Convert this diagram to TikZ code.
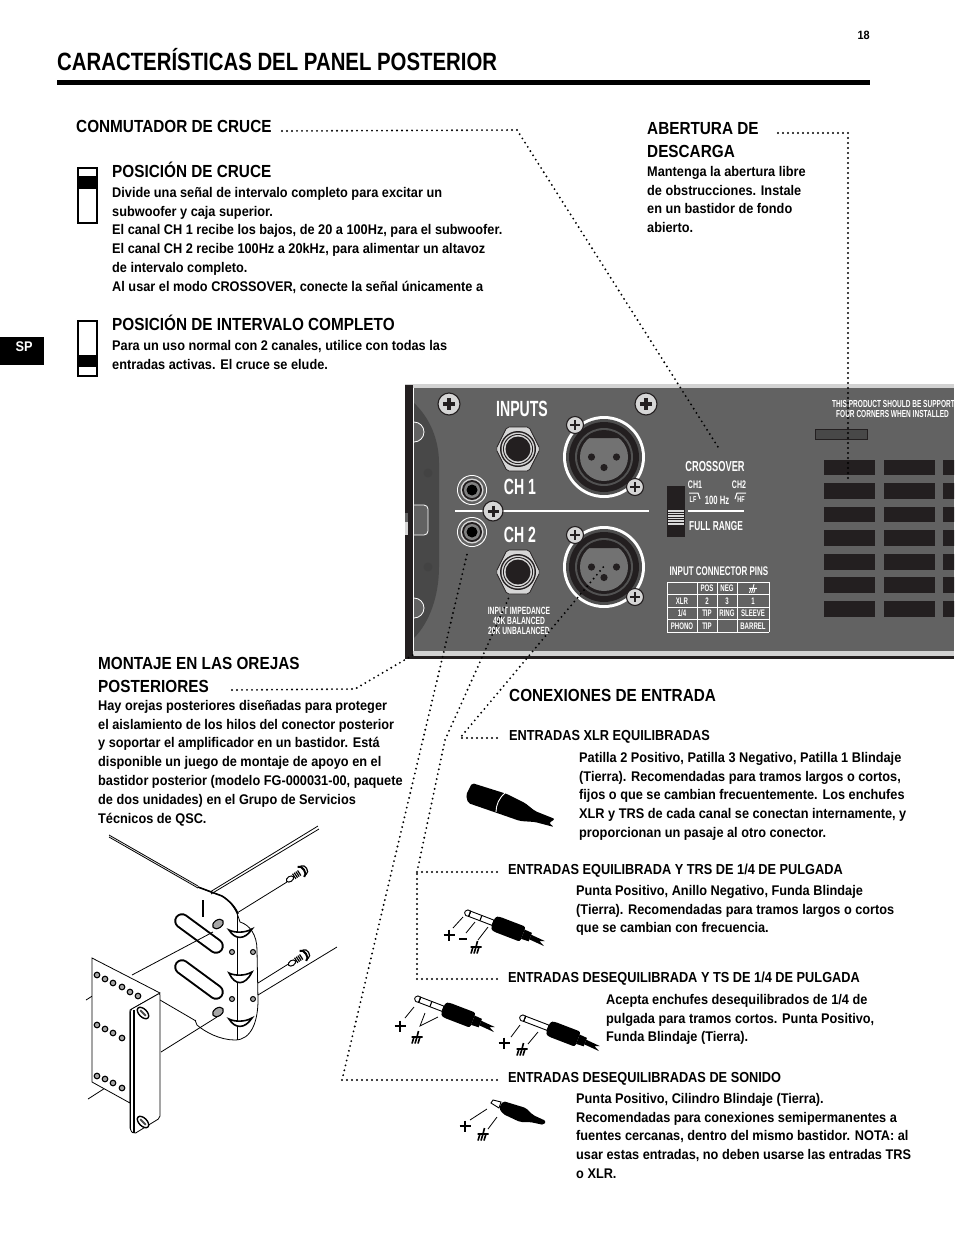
\documentclass[tikz,border=0pt]{standalone}
\usepackage{fontspec}
\setmainfont{Liberation Sans}
\newfontfamily\panelfont[FakeStretch=0.64]{Liberation Sans}
\newfontfamily\bodyfont[FakeStretch=0.91]{Liberation Sans}
\newfontfamily\headfont[FakeStretch=0.875]{Liberation Sans}
\newfontfamily\subfont[FakeStretch=0.88]{Liberation Sans}
\newfontfamily\titlefont[FakeStretch=0.815]{Liberation Sans}
\usepackage{xcolor}
\usepackage{tikz}
\usetikzlibrary{positioning, calc}
\definecolor{panelcolor}{RGB}{98, 98, 98}
\definecolor{earcolor}{RGB}{72, 72, 72}
\definecolor{ventcolor}{RGB}{35, 31, 32}
\definecolor{screwcolor}{RGB}{214, 214, 214}
\definecolor{edgecolor}{RGB}{210, 210, 210}

\tikzset{
    bodytext/.style={anchor=north west, inner sep=0pt, align=left, font=\bodyfont\bfseries\fontsize{14}{18.8}\selectfont, execute at begin node={\rule{0pt}{12pt}}},
    headtext/.style={bodytext, font=\headfont\bfseries\fontsize{17.5}{22.7}\selectfont, execute at begin node={\rule{0pt}{17pt}}},
    subhead/.style={bodytext, font=\subfont\bfseries\fontsize{14.5}{18.7}\selectfont},
    paneltext/.style={inner sep=0pt, text=white, align=center, font=\panelfont\bfseries\fontsize{#1}{10.2}\selectfont},
    dotline/.style={line width=2.1pt, line cap=round, dash pattern=on 0pt off 5pt},
    thinline/.style={line width=0.8pt},
    pics/screwhead/.style={code={
        \draw[fill=screwcolor, draw=ventcolor, line width=1.1pt] (0,0) circle (#1);
        \draw[line width=0.3*#1 pt, ventcolor] (-0.55*#1,0) -- (0.55*#1,0) (0,-0.55*#1) -- (0,0.55*#1);
    }},
    pics/xlrjack/.style={code={
        \fill[white] (0,0) circle (41);
        \fill[panelcolor!80!black] (0,0) circle (38);
        \fill[ventcolor] (0,0) circle (35);
        \fill[panelcolor!110] (0,0) circle (29);
        \fill[ventcolor] (0,0) circle (27);
        \fill[panelcolor!90!white] (0,0) circle (24);
        \fill[ventcolor] (-13,-24) -- (13,-24) -- (15,-19) -- (-15,-19) -- cycle;
        \fill[ventcolor] (-12.5,0) circle (3.6) (12.5,0) circle (3.6) (0,10.5) circle (3.6);
    }},
    pics/phonejack/.style={code={
        \draw[fill=screwcolor, draw=ventcolor, line width=0.7pt, rounded corners=2pt] (22,0) -- (11,-22) -- (-11,-22) -- (-22,0) -- (-11,22) -- (11,22) -- cycle;
        \fill[ventcolor] (0,0) circle (18);
        \fill[screwcolor] (0,0) circle (16.5);
        \fill[ventcolor] (0,0) circle (15);
        \fill[screwcolor] (0,0) circle (14);
        \fill[ventcolor] (0,0) circle (12.5);
    }},
    pics/rcajack/.style={code={
        \fill[white] (0,0) circle (15);
        \fill[panelcolor] (0,0) circle (14);
        \fill[screwcolor] (0,0) circle (11.5);
        \fill[ventcolor] (0,0) circle (10);
        \fill[panelcolor!80] (0,0) circle (8);
        \fill[black] (0,0) circle (5.5);
    }},
    pics/groundmark/.style={code={
        \draw[line width=1.6pt] (1.5,-7) -- (0,-1) (-5.5,-1) -- (5.5,-1) (-3,-1) -- (-5,5.5) (0,-1) -- (-2,5.5) (3,-1) -- (1,5.5);
    }},
    pics/rackscrew/.style={code={
        \draw[line width=1pt, fill=white] (0,0) ellipse (4 and 2.6);
        \foreach \threadx in {5,7,9,11} {
            \draw[line width=1.2pt] (\threadx,-3) -- (\threadx,3);
        }
        \draw[line width=2pt] (13,-6) .. controls (18,-6) and (18,6) .. (13,6);
        \draw[line width=1.2pt] (16,-5) .. controls (21,-5) and (21,5) .. (16,5);
    }},
    pics/quarterplug/.style={code={
        \draw[line width=0.9pt, fill=white] (5,-2.8) -- (30,-2.8) -- (30,2.8) -- (5,2.8) -- cycle;
        \draw[line width=0.9pt, fill=white] (5,-2.8) -- (2,-3) -- (0,-1) -- (0,1) -- (2,3) -- (5,2.8) -- cycle;
        \draw[line width=1.1pt] (5,-2.8) -- (5,2.8);
        #1
        \fill[black, rounded corners=2.5pt] (30,-6.5) -- (34,-8) -- (62,-8) -- (62,8) -- (34,8) -- (30,6.5) -- cycle;
        \fill[black] (62,-5) -- (70,-4.5) -- (70,4.5) -- (62,5) -- cycle;
        \fill[black] (70,-2.5) -- (85,-1.5) -- (80,0.5) -- (86,3.5) -- (70,2.5) -- cycle;
    }}
}

\begin{document}
\begin{tikzpicture}[x=1pt, y=-1pt]
\useasboundingbox (0,0) rectangle (954,1235);
\fill[white] (0,0) rectangle (954,1235);

% Page head
\node[anchor=east, inner sep=0pt, font=\bodyfont\bfseries\fontsize{12}{14}\selectfont] (pagenum) at (870,35) {18};
\node[anchor=base west, inner sep=0pt, font=\titlefont\bfseries\fontsize{25}{30}\selectfont] (pagetitle) at (57,70) {CARACTERÍSTICAS DEL PANEL POSTERIOR};
\fill[black] (57,80) rectangle (870,85);
\fill[black] (0,337) rectangle (44,365);
\node[inner sep=0pt, text=white, font=\bodyfont\bfseries\fontsize{14}{16}\selectfont] (sptab) at (24,347) {SP};

% Crossover switch
\node[headtext] (conmutador) at (76,115.5) {CONMUTADOR DE CRUCE};
\node[headtext] (poscruce) at (112,160.5) {POSICIÓN DE CRUCE};
\node[bodytext] (poscrucetxt) at (112,187) {Divide una señal de intervalo completo para excitar un\\subwoofer y caja superior.\\El canal CH 1 recibe los bajos, de 20 a 100Hz, para el subwoofer.\\El canal CH 2 recibe 100Hz a 20kHz, para alimentar un altavoz\\de intervalo completo.\\Al usar el modo CROSSOVER, conecte la señal únicamente a};
\node[headtext] (posrango) at (112,313.5) {POSICIÓN DE INTERVALO COMPLETO};
\node[bodytext] (posrangotxt) at (112,340) {Para un uso normal con 2 canales, utilice con todas las\\entradas activas. El cruce se elude.};
\draw[line width=1.6pt] (78,168) rectangle (97,223);
\fill[black] (78,176) rectangle (97,189);
\draw[line width=1.6pt] (78,321) rectangle (97,376);
\fill[black] (78,355) rectangle (97,367);

% Exhaust
\node[headtext] (abertura) at (647,122.5) {ABERTURA DE\\DESCARGA};
\node[bodytext] (aberturatxt) at (647,166) {Mantenga la abertura libre\\de obstrucciones. Instale\\en un bastidor de fondo\\abierto.};

% Rear panel
\begin{scope}
    \clip (404,384) rectangle (954,659);
    \fill[edgecolor] (405,384) rectangle (954,656);
    \fill[panelcolor] (413,388) rectangle (954,651);
    \fill[ventcolor] (405,656) rectangle (954,659);
    \fill[ventcolor] (405,385) rectangle (413,656);
    \fill[panelcolor] (405,513) rectangle (408,522);
    \fill[screwcolor] (405,522) rectangle (408,535);
    \draw[white, line width=0.8pt] (413.5,388) -- (413.5,651);
    \fill[earcolor] (414,403) .. controls (430,418) and (439,440) .. (439,463) -- (439,567) .. controls (439,595) and (430,622) .. (414,638) -- cycle;
    \draw[white, line width=0.8pt, fill=panelcolor] (414,422) arc (-90:90:10);
    \draw[white, line width=0.8pt, fill=panelcolor] (414,598) arc (-90:90:10);
    \draw[white, line width=0.8pt, fill=panelcolor, rounded corners=4pt] (414,505) -- (428,505) -- (428,535) -- (414,535);
    \fill[panelcolor!120] (428,473) circle (4.5) (428,567) circle (4.5);

    % Vent slots
    \foreach \ventx in {824,884,943} {
        \foreach \venty/\venth in {460/15,483/16,507/15,530/16,554/16,577/16,601/16} {
            \fill[ventcolor] (\ventx,\venty) rectangle ++(50.5,\venth);
        }
    }
    \draw[ventcolor, fill=earcolor, line width=0.8pt] (815,429) rectangle (867,439);
\end{scope}
\node[paneltext=10.2, anchor=west] (warnone) at (832,404) {THIS PRODUCT SHOULD BE SUPPORT};
\node[paneltext=10.2, anchor=west] (warntwo) at (836,414) {FOUR CORNERS WHEN INSTALLED};

% Inputs
\node[paneltext=22] (inputs) at (522,409) {INPUTS};
\node[paneltext=22] (chone) at (520,487) {CH 1};
\node[paneltext=22] (chtwo) at (520,535) {CH 2};
\draw[white, line width=2.8pt] (455,511) -- (649,511);
\pic at (518,449) {phonejack};
\pic at (518,572) {phonejack};
\pic at (604,457) {xlrjack};
\pic at (604,567) {xlrjack};
\pic at (472,490) {rcajack};
\pic at (472,532) {rcajack};
\pic at (449,404) {screwhead=11};
\pic at (646,404) {screwhead=11};
\pic at (575,425) {screwhead=8.5};
\pic at (635,487) {screwhead=8.5};
\pic at (493,511) {screwhead=10};
\pic at (575,535) {screwhead=8.5};
\pic at (635,597) {screwhead=8.5};
\node[paneltext=10.5] (impedance) at (519,621) {INPUT IMPEDANCE\\40K BALANCED\\20K UNBALANCED};

% Crossover block
\node[paneltext=14.5] (crossover) at (715,467) {CROSSOVER};
\node[paneltext=11] (chonelbl) at (695,485) {CH1};
\node[paneltext=11] (chtwolbl) at (739,485) {CH2};
\node[paneltext=8.5] (lflbl) at (693,500) {LF};
\node[paneltext=8.5] (hflbl) at (741,500) {HF};
\node[paneltext=12] (hundred) at (717,500) {100 Hz};
\node[paneltext=13] (fullrange) at (716,526) {FULL RANGE};
\draw[white, line width=1pt] (689,493) -- (698,493) -- (700,499);
\draw[white, line width=1pt] (746,493) -- (737,493) -- (735,499);
\draw[white, line width=2.8pt] (688,511) -- (744,511);
\fill[ventcolor] (667,486) rectangle (685,537);
\fill[white!85!black] (668,510) rectangle (684,525);
\foreach \sliderline in {512,514.5,517,519.5,522} {
    \draw[ventcolor, line width=0.6pt] (668,\sliderline) -- (684,\sliderline);
}

% Pin table
\node[paneltext=12.5] (pinstitle) at (719,571) {INPUT CONNECTOR PINS};
\foreach \rowy in {582,594.5,607,619.5,632} {
    \draw[white, line width=0.9pt] (667,\rowy) -- (769,\rowy);
}
\foreach \colx in {667,697,717,737,769} {
    \draw[white, line width=0.9pt] (\colx,582) -- (\colx,632);
}
\foreach \cellx/\celly/\celltext in {707/588/POS,727/588/NEG,682/601/XLR,707/601/2,727/601/3,753/601/1,682/613/1\slash 4,707/613/TIP,727/613/RING,753/613/SLEEVE,682/626/PHONO,707/626/TIP,753/626/BARREL} {
    \node[paneltext=9.5] at (\cellx,\celly) {\celltext};
}
\begin{scope}[shift={(753,589)}, scale=0.7, white]
    \draw[line width=0.9pt] (1.5,-7) -- (0,-1) (-5.5,-1) -- (5.5,-1) (-3,-1) -- (-5,5.5) (0,-1) -- (-2,5.5) (3,-1) -- (1,5.5);
\end{scope}

% Rack ears
\node[headtext] (montaje) at (98,657.5) {MONTAJE EN LAS OREJAS\\POSTERIORES};
\node[bodytext] (montajetxt) at (98,700) {Hay orejas posteriores diseñadas para proteger\\el aislamiento de los hilos del conector posterior\\y soportar el amplificador en un bastidor. Está\\disponible un juego de montaje de apoyo en el\\bastidor posterior (modelo FG-000031-00, paquete\\de dos unidades) en el Grupo de Servicios\\Técnicos de QSC.};

% Rails
\draw[thinline] (109,835) -- (198,886) (109,837) -- (198,888);
\draw[thinline] (210,892) -- (318,826) (211,894) -- (319,829);
\draw[thinline] (237,913) -- (287,882) (258,983) -- (290,963) (258,995) -- (337,947);
% Ear plate
\draw[thinline] (198,887) -- (222,896) .. controls (230,901) and (236,908) .. (240,922) .. controls (250,925) and (257,935) .. (257,950) -- (258,1000) .. controls (258,1020) and (252,1040) .. (235,1040) .. controls (220,1040) and (205,1032) .. (197,1025) -- (195,1020);
\draw[thinline] (237,913) -- (237,1040);
\draw[line width=1.6pt] (198,887) -- (222,896) .. controls (230,901) and (236,908) .. (238,914);
\draw[line width=1.6pt] (203,900) -- (203,917);
\foreach \slotstart/\slotend in {{(182,921)}/{(216,946)},{(182,967)}/{(216,992)}} {
    \draw[line width=15.5pt, line cap=round] \slotstart -- \slotend;
    \draw[line width=11.5pt, white, line cap=round] \slotstart -- \slotend;
}
\foreach \ovalx/\ovaly in {218/924,218/1012} {
    \draw[line width=1.1pt, fill=gray!70, rotate around={35:(\ovalx,\ovaly)}] (\ovalx,\ovaly) ellipse (6 and 4);
}
\foreach \holex/\holey in {232/952,253/952,232/999,253/999} {
    \draw[line width=1pt, fill=gray!70] (\holex,\holey) circle (2.5);
}
\foreach \hingey/\hingeh in {930/8,973/11,1019/8} {
    \draw[line width=1.6pt, fill=white] (229,\hingey) .. controls (235,\hingey+\hingeh+2) and (245,\hingey+\hingeh+2) .. (252,\hingey-1) .. controls (245,\hingey+3) and (235,\hingey+3) .. cycle;
}
% Front screws
\pic[rotate=33] at (290,879) {rackscrew};
\pic[rotate=33] at (292,963) {rackscrew};
% Ear leader lines
\draw[thinline] (132,975) -- (213,932) (160,1000) -- (196,1021);
\draw[thinline] (161,1052) -- (217,1017);
\draw[thinline] (86,1000) -- (113,983) (88,1099) -- (113,1083);
% Bracket
\draw[thinline, fill=white] (92,958) -- (160,993) -- (130,1010) -- (130,1103) -- (92,1082) -- cycle;
\draw[thinline, fill=white, rounded corners=2pt] (130,1010) -- (160,993) -- (160,1118) -- (134,1134) -- (130,1130) -- cycle;
\draw[line width=1.8pt] (130.5,1012) -- (130.5,1130);
\draw[line width=1.8pt] (134,1010) -- (134,1133);
\foreach \dotx/\doty in {97/975,105/979,113/983,122/987,130/992,138/996,97/1025,105/1029,113/1033,122/1038,97/1076,105/1079,113/1083,122/1088} {
    \draw[line width=1.1pt, fill=gray!70] (\dotx,\doty) circle (2.8);
}
\foreach \bracketx/\brackety in {143/1013,143/1122} {
    \draw[line width=1.4pt, fill=white, rotate around={-45:(\bracketx,\brackety)}] (\bracketx,\brackety) ellipse (7 and 4);
    \draw[line width=1.8pt, gray!60!black, rotate around={-45:(\bracketx,\brackety)}] (\bracketx-4,\brackety) -- (\bracketx+4,\brackety);
}

% Input connections
\node[headtext] (conexiones) at (509,684.5) {CONEXIONES DE ENTRADA};
\node[subhead] (xlrhead) at (509,728) {ENTRADAS XLR EQUILIBRADAS};
\node[bodytext] (xlrtxt) at (579,752) {Patilla 2 Positivo, Patilla 3 Negativo, Patilla 1 Blindaje\\(Tierra). Recomendadas para tramos largos o cortos,\\fijos o que se cambian frecuentemente. Los enchufes\\XLR y TRS de cada canal se conectan internamente, y\\proporcionan un pasaje al otro conector.};
\node[subhead] (trshead) at (508,862) {ENTRADAS EQUILIBRADA Y TRS DE 1/4 DE PULGADA};
\node[bodytext] (trstxt) at (576,885) {Punta Positivo, Anillo Negativo, Funda Blindaje\\(Tierra). Recomendadas para tramos largos o cortos\\que se cambian con frecuencia.};
\node[subhead] (tshead) at (508,970) {ENTRADAS DESEQUILIBRADA Y TS DE 1/4 DE PULGADA};
\node[bodytext] (tstxt) at (606,994) {Acepta enchufes desequilibrados de 1/4 de\\pulgada para tramos cortos. Punta Positivo,\\Funda Blindaje (Tierra).};
\node[subhead] (rcahead) at (508,1070) {ENTRADAS DESEQUILIBRADAS DE SONIDO};
\node[bodytext] (rcatxt) at (576,1093) {Punta Positivo, Cilindro Blindaje (Tierra).\\Recomendadas para conexiones semipermanentes a\\fuentes cercanas, dentro del mismo bastidor. NOTA: al\\usar estas entradas, no deben usarse las entradas TRS\\o XLR.};

% Plugs
\fill[black, rounded corners=2pt] (472,783) -- (466,795) -- (468,803) -- (497,813) -- (520,821) -- (535,822) -- (554,827) -- (549,823) -- (555,819) -- (535,811) -- (525,803) -- (507,794) -- cycle;
\draw[white, line width=0.9pt] (505,793) .. controls (499,798) and (496,805) .. (496,812);
\pic[rotate=-21] at (465,912) {quarterplug={\draw[line width=1.1pt] (17,-2.8) -- (17,2.8);}};
\pic[rotate=-21] at (415,998) {quarterplug={\draw[line width=1.1pt] (17,-2.8) -- (17,2.8);}};
\pic[rotate=-21] at (520,1017) {quarterplug={}};
\fill[black, rounded corners=2pt] (499,1108) -- (503,1101) -- (526,1108) -- (533,1115) -- (546,1121) -- (544,1125) -- (530,1122) -- (520,1122) -- (503,1114) -- cycle;
\draw[line width=0.9pt, fill=white] (491,1103) -- (493,1100) -- (501,1102) -- (499,1108) -- cycle;

% Plug labels
\foreach \plusx/\plusy in {449/935,400/1026,504/1043,465/1126} {
    \draw[line width=1.8pt] (\plusx-5.5,\plusy) -- (\plusx+5.5,\plusy) (\plusx,\plusy-5.5) -- (\plusx,\plusy+5.5);
}
\draw[line width=1.9pt] (459,939) -- (467,939);
\pic at (476,948) {groundmark};
\pic at (417,1038) {groundmark};
\pic at (522,1050) {groundmark};
\pic at (483,1135) {groundmark};
\draw[thinline] (463,917) -- (453,928) (475,922) -- (466,933) (488,927) -- (478,940);
\draw[thinline] (414,1007) -- (405,1018) (425,1013) -- (420,1026) -- (438,1017);
\draw[thinline] (520,1025) -- (511,1037) (538,1032) -- (528,1044);
\draw[thinline] (487,1109) -- (470,1120) (497,1117) -- (488,1129);

% Dotted connections
\coordinate (cruceA) at (282,131);
\coordinate (cruceB) at (517,130);
\coordinate (cruceC) at (718,447);
\coordinate (descargaA) at (778,133);
\coordinate (descargaB) at (848,133);
\coordinate (descargaC) at (848,480);
\coordinate (orejaA) at (232,690);
\coordinate (orejaB) at (355,689);
\coordinate (orejaC) at (413,655);
\coordinate (xlrA) at (497,738);
\coordinate (xlrB) at (460,738);
\coordinate (xlrC) at (605,565);
\coordinate (trsA) at (497,872);
\coordinate (trsB) at (417,872);
\coordinate (trsC) at (445,740);
\coordinate (trsD) at (510,595);
\coordinate (tsA) at (497,979);
\coordinate (tsB) at (417,979);
\coordinate (rcaA) at (497,1080);
\coordinate (rcaB) at (342,1080);
\coordinate (rcaC) at (468,550);
\draw[dotline] (cruceA) -- (cruceB) -- (cruceC);
\draw[dotline] (descargaA) -- (descargaB) -- (descargaC);
\draw[dotline] (orejaA) -- (orejaB) -- (orejaC);
\draw[dotline] (xlrA) -- (xlrB) -- (xlrC);
\draw[dotline] (trsA) -- (trsB) -- (trsC) -- (trsD);
\draw[dotline] (tsA) -- (tsB) -- (trsB);
\draw[dotline] (rcaA) -- (rcaB) -- (rcaC);

\end{tikzpicture}
\end{document}
